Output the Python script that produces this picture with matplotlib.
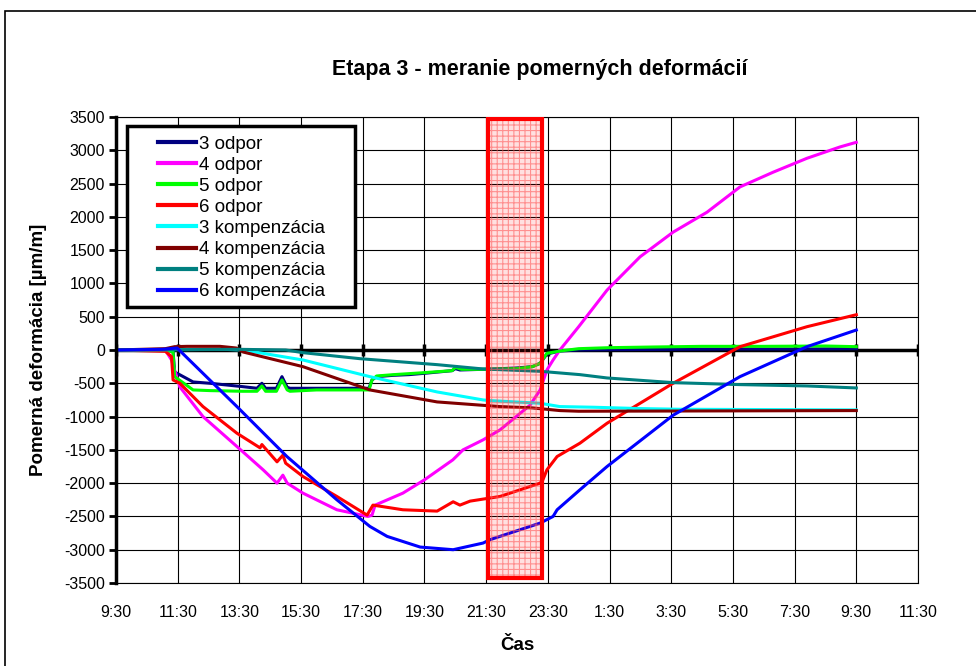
import matplotlib.pyplot as plt
from matplotlib.patches import Rectangle

plt.rcParams['font.family'] = ['Liberation Sans', 'DejaVu Sans']
plt.rcParams['axes.unicode_minus'] = False
plt.rcParams['hatch.linewidth'] = 0.8

# === data: time in hours since 9:30, strain in um/m ===
tick_hours = list(range(0, 27, 2))
tick_labels = ['9:30', '11:30', '13:30', '15:30', '17:30', '19:30', '21:30',
               '23:30', '1:30', '3:30', '5:30', '7:30', '9:30', '11:30']
y_ticks = list(range(-3500, 3501, 500))

box_start, box_end = 12.05, 13.8      # shaded interval
box_low, box_high = -3420, 3470

t_3o = [0, 1.6, 1.85, 1.9, 2.5, 3.05, 4.1, 4.57, 4.73, 4.85, 5.2, 5.38, 5.55, 5.64, 6.5, 7.5, 8.2,
        8.3, 8.45, 9.0, 9.5, 10.0, 10.9, 11.0, 11.15, 11.9, 12.5, 13.0, 13.5, 13.75, 13.97, 14.4,
        15.0, 16.0, 18.0, 20.0, 22.0, 24.0]
v_3o = [0, 0, -20, -330, -480, -500, -550, -575, -500, -575, -575, -400, -560, -575, -575, -575, -575,
        -450, -400, -380, -370, -350, -310, -280, -300, -290, -280, -270, -250, -200, -60, -15,
        0, 5, 10, 15, 15, 20]

t_4o = [0, 1.6, 1.8, 2.07, 2.82, 3.92, 4.77, 5.22, 5.41, 5.55, 6.06, 7.16, 8.17, 8.3, 8.4, 9.3,
        10.0, 10.92, 11.25, 11.9, 12.45, 13.42, 13.75, 13.97, 14.17, 14.39, 15.0, 15.92, 16.99,
        18.06, 19.16, 20.23, 21.3, 22.4, 23.47, 24.0]
v_4o = [0, 0, -150, -555, -1000, -1450, -1800, -2000, -1880, -2000, -2150, -2400, -2500, -2480,
        -2330, -2150, -1950, -1650, -1500, -1350, -1200, -830, -600, -300, -150, 0, 350, 900,
        1400, 1770, 2070, 2450, 2670, 2880, 3050, 3120]

t_5o = [0, 1.6, 1.85, 1.9, 2.5, 3.05, 4.1, 4.57, 4.73, 4.85, 5.2, 5.38, 5.55, 5.64, 6.5, 7.5, 8.2,
        8.3, 8.45, 9.0, 10.0, 10.9, 11.0, 11.2, 12.0, 13.0, 13.5, 13.75, 13.97, 14.4, 15.0, 16.0,
        17.4, 19.0, 21.0, 23.0, 24.0]
v_5o = [0, 0, -30, -400, -600, -610, -620, -620, -540, -620, -620, -450, -600, -620, -600, -600, -600,
        -450, -390, -370, -340, -310, -260, -290, -290, -280, -250, -200, -50, -15, 20, 35,
        45, 55, 55, 60, 50]

t_6o = [0, 1.6, 1.8, 1.85, 2.07, 2.82, 3.92, 4.67, 4.73, 5.22, 5.41, 5.5, 6.06, 7.16, 8.14, 8.33,
        9.3, 10.41, 10.93, 11.15, 11.48, 12.45, 13.75, 13.84, 13.97, 14.3, 15.04, 15.92, 18.06,
        20.23, 22.4, 24.0]
v_6o = [0, -20, -100, -450, -500, -850, -1250, -1470, -1420, -1680, -1580, -1700, -1900, -2200,
        -2480, -2330, -2400, -2420, -2280, -2330, -2270, -2200, -2000, -1950, -1800, -1600, -1400,
        -1100, -500, 50, 350, 530]

t_3k = [0, 3.5, 4.12, 6.06, 8.23, 10.41, 11.9, 12.12, 13.75, 14.39, 15.5, 17.0, 18.3, 24.0]
v_3k = [0, 10, 0, -150, -400, -630, -750, -760, -800, -850, -860, -880, -890, -900]

t_4k = [0, 1.6, 1.9, 2.3, 3.37, 3.9, 4.12, 6.06, 8.23, 10.41, 12.45, 13.5, 14.39, 15.0, 24.0]
v_4k = [0, 20, 50, 55, 55, 30, -30, -250, -600, -780, -850, -870, -910, -920, -910]

t_5k = [0, 4.0, 5.5, 6.06, 7.9, 10.41, 11.9, 13.75, 15.04, 15.92, 18.06, 20.23, 22.4, 24.0]
v_5k = [0, 10, 0, -40, -130, -220, -285, -320, -370, -420, -490, -520, -540, -570]

t_6k = [0, 1.5, 1.98, 3.92, 5.54, 7.16, 8.23, 8.79, 9.86, 10.93, 11.9, 12.12, 13.75, 14.17, 14.3,
        15.04, 15.92, 18.06, 20.23, 22.4, 24.0]
v_6k = [0, 10, 30, -850, -1600, -2250, -2650, -2800, -2960, -3000, -2900, -2850, -2600, -2500,
        -2400, -2100, -1750, -980, -400, 50, 300]

series = [
    ('3 odpor', t_3o, v_3o, '#000080'),
    ('4 odpor', t_4o, v_4o, '#ff00ff'),
    ('5 odpor', t_5o, v_5o, '#00ff00'),
    ('6 odpor', t_6o, v_6o, '#ff0000'),
    ('3 kompenzácia', t_3k, v_3k, '#00ffff'),
    ('4 kompenzácia', t_4k, v_4k, '#800000'),
    ('5 kompenzácia', t_5k, v_5k, '#008080'),
    ('6 kompenzácia', t_6k, v_6k, '#0000ff'),
]

# === figure ===
fig = plt.figure(figsize=(9.76, 6.66), dpi=100)
ax = fig.add_axes([116 / 976, 1 - 583 / 666, 802 / 976, 466 / 666])

# outer chart border (cut off at right / bottom)
fig.add_artist(Rectangle((5 / 976, -0.1), 1.2, 1.1 - 11 / 666, transform=fig.transFigure,
                         fill=False, edgecolor='black', lw=1.2))

ax.set_xlim(0, 26)
ax.set_ylim(-3500, 3500)
ax.set_xticks(tick_hours)
ax.set_xticklabels(tick_labels)
ax.set_yticks(y_ticks)
ax.grid(True, color='black', lw=0.8, zorder=0)
ax.set_axisbelow(True)

for s in ['top', 'right', 'bottom']:
    ax.spines[s].set_linewidth(0.8)
ax.spines['left'].set_linewidth(2.5)
ax.tick_params(axis='y', direction='out', length=5, width=2, labelsize=11.5, pad=3)
ax.tick_params(axis='x', length=0, labelsize=11.5, pad=16)

# x-axis crossing at zero
ax.axhline(0, color='black', lw=2.5, zorder=1.5)
ax.plot(tick_hours, [0] * len(tick_hours), ls='none', marker='|', ms=8, mew=2.5,
        color='black', zorder=1.6)

for name, t, v, c in series:
    ax.plot(t, v, color=c, lw=2.2, label=name, zorder=2)

# shaded interval
ax.add_patch(Rectangle((box_start, box_low), box_end - box_start, box_high - box_low,
                       facecolor=(1, 0, 0, 0.12), edgecolor=(1, 0.35, 0.35, 0.6),
                       hatch='+++', lw=0, zorder=3))
ax.add_patch(Rectangle((box_start, box_low), box_end - box_start, box_high - box_low,
                       fill=False, edgecolor='#ff0000', lw=3, zorder=3.1))

# legend with its own frame
ax.add_patch(Rectangle((0.0137, 0.5923), 0.2843, 0.3884, transform=ax.transAxes,
                       facecolor='white', edgecolor='black', lw=2.5, zorder=4.9))
leg = ax.legend(loc='upper left', bbox_to_anchor=(0.0524, 0.960), borderaxespad=0,
                borderpad=0, frameon=False, fontsize=13.5, handlelength=2.05,
                labelspacing=0.21, handletextpad=0.12)
for line in leg.get_lines():
    line.set_linewidth(3)
leg.set_zorder(5)

fig.text(540 / 976, 1 - 70 / 666, 'Etapa 3 - meranie pomerných deformácií',
         ha='center', va='center', fontsize=15.5, fontweight='bold')
ax.set_xlabel('Čas', fontsize=13.5, fontweight='bold', labelpad=12)
ax.set_ylabel('Pomerná deformácia [µm/m]', fontsize=13.5, fontweight='bold', labelpad=12)

fig.savefig('out.png', dpi=100)
